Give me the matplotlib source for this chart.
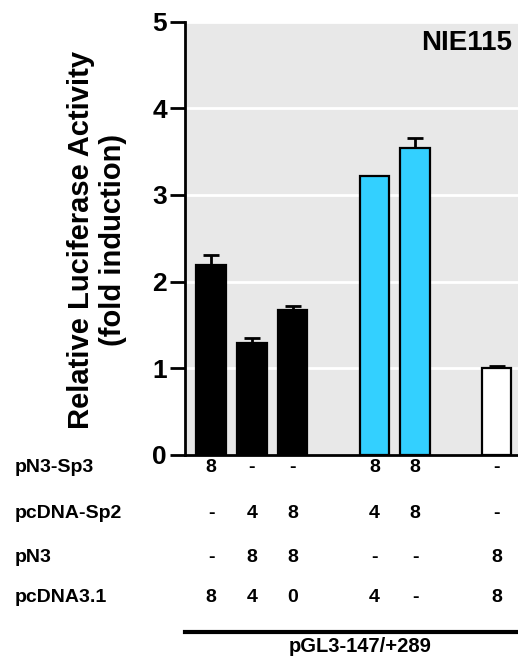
import matplotlib
matplotlib.use('Agg')
from matplotlib import pyplot as plt

plt.rcParams['font.family'] = ['Liberation Sans', 'DejaVu Sans']
plt.rcParams['font.weight'] = 'bold'

# data
positions = [0, 1, 2, 4, 5, 7]
values = [2.19, 1.29, 1.67, 3.22, 3.54, 1.00]
errors = [0.12, 0.06, 0.05, 0.0, 0.12, 0.02]
colors = ['black', 'black', 'black', '#33d0ff', '#33d0ff', 'white']

row_names = ['pN3-Sp3', 'pcDNA-Sp2', 'pN3', 'pcDNA3.1']
row_values = [
    ['8', '-', '-', '8', '8', '-'],
    ['-', '4', '8', '4', '8', '-'],
    ['-', '8', '8', '-', '-', '8'],
    ['8', '4', '0', '4', '-', '8'],
]

fig = plt.figure(figsize=(5.18, 6.6), dpi=100)
ax = fig.add_axes([0.357, 0.311, 0.643, 0.656])
ax.set_facecolor('#e8e8e8')

ax.bar(positions, values, width=0.72, color=colors, edgecolor='black',
       linewidth=1.6, zorder=3)
for p, v, e in zip(positions, values, errors):
    if e > 0:
        ax.errorbar(p, v, yerr=[[0], [e]], fmt='none', ecolor='black',
                    elinewidth=2, capsize=5.5, capthick=2, zorder=2)

ax.set_ylim(0, 5)
ax.set_xlim(-0.64, 7.52)
ax.set_yticks([0, 1, 2, 3, 4, 5])
ax.tick_params(axis='y', labelsize=19, width=2, length=11, pad=2)
ax.set_xticks([])
for lbl in ax.get_yticklabels():
    lbl.set_fontweight('bold')
ax.yaxis.grid(True, color='white', linewidth=2)
ax.set_axisbelow(True)
for s in ['top', 'right']:
    ax.spines[s].set_visible(False)
ax.spines['left'].set_linewidth(2)
ax.spines['bottom'].set_linewidth(2)

# y label placed by hand to match the reference position
fig.text(97 / 518, 1 - 240 / 660,
         'Relative Luciferase Activity\n(fold induction)', rotation=90,
         ha='center', va='center', fontsize=21, fontweight='bold',
         linespacing=1.2, multialignment='center')

ax.text(512 / 518, 1 - 43 / 660, 'NIE115', transform=fig.transFigure,
        ha='right', va='center', fontsize=20, fontweight='bold')

# table below the bars
row_y = [467, 514, 557, 598]
for name, vals, y in zip(row_names, row_values, row_y):
    fy = 1 - y / 660
    fig.text(15 / 518, fy, name, ha='left', va='center', fontsize=14,
             fontweight='bold')
    for p, v in zip(positions, vals):
        xf = ax.transData.transform((p, 0))[0]
        fig.text(xf / 518, fy, v, ha='center', va='center', fontsize=14,
                 fontweight='bold')

fig.add_artist(plt.Line2D([185 / 518, 1.0], [1 - 632 / 660, 1 - 632 / 660],
                          color='black', linewidth=3, transform=fig.transFigure))
fig.text(360 / 518, 1 - 647 / 660, 'pGL3-147/+289', ha='center', va='center',
         fontsize=14.5, fontweight='bold')

fig.savefig('out.png', dpi=100)
